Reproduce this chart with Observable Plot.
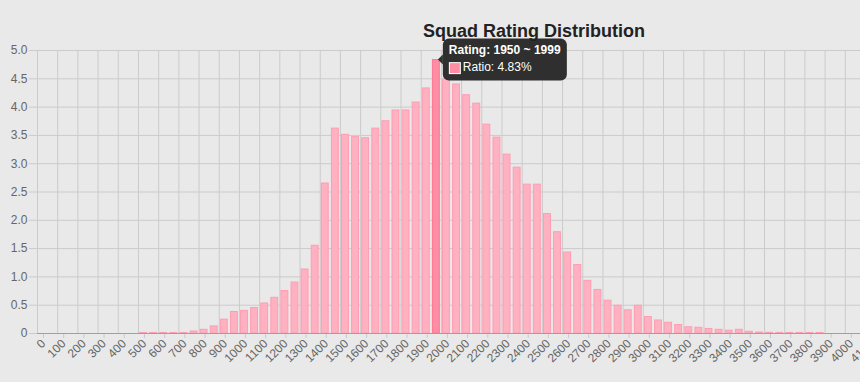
<!DOCTYPE html>
<html><head><meta charset="utf-8">
<script src="https://cdn.jsdelivr.net/npm/d3@7"></script>
<script src="https://cdn.jsdelivr.net/npm/@observablehq/plot@0.6"></script>
<style>
html,body{margin:0;padding:0;background:#e9e9e9;overflow:hidden;width:860px;height:382px;}
#wrap{position:relative;width:860px;height:382px;overflow:hidden;}
#title{position:absolute;top:22px;left:534px;transform:translateX(-50%);font:bold 18px "Liberation Sans",Arial,sans-serif;color:#222;line-height:18px;white-space:nowrap;}
#chart{position:absolute;top:0;left:0;width:868px;height:382px;}
#chart svg{max-width:none !important;width:868px;height:382px;}
</style></head><body>
<div id="wrap"><div id="chart"></div><div id="title"></div></div>
<script>
const title = "Squad Rating Distribution";
const binStart = [0,50,100,150,200,250,300,350,400,450,500,550,600,650,700,750,800,850,900,950,
  1000,1050,1100,1150,1200,1250,1300,1350,1400,1450,1500,1550,1600,1650,1700,1750,1800,1850,1900,1950,
  2000,2050,2100,2150,2200,2250,2300,2350,2400,2450,2500,2550,2600,2650,2700,2750,2800,2850,2900,2950,
  3000,3050,3100,3150,3200,3250,3300,3350,3400,3450,3500,3550,3600,3650,3700,3750,3800,3850,3900,3950];
const ratio = [0,0,0,0,0,0,0,0,0,0,0.01,0.01,0.01,0.01,0.01,0.035,0.065,0.125,0.245,0.38,
  0.40,0.45,0.53,0.63,0.75,0.90,1.13,1.55,2.65,3.62,3.51,3.47,3.45,3.62,3.75,3.94,3.94,4.08,4.33,4.83,
  4.49,4.40,4.21,4.06,3.69,3.46,3.16,2.93,2.63,2.63,2.11,1.79,1.43,1.21,0.93,0.77,0.58,0.49,0.41,0.49,
  0.29,0.23,0.19,0.15,0.11,0.10,0.08,0.065,0.05,0.065,0.03,0.017,0.012,0.01,0.01,0.01,0.01,0.01,0,0];
const yTicks = [0,0.5,1,1.5,2,2.5,3,3.5,4,4.5,5];
const xTicks = [0,100,200,300,400,500,600,700,800,900,1000,1100,1200,1300,1400,1500,1600,1700,1800,1900,2000,
  2100,2200,2300,2400,2500,2600,2700,2800,2900,3000,3100,3200,3300,3400,3500,3600,3700,3800,3900,4000,4100];
const binWidth = 50;
const hoverBin = 1950;

document.getElementById("title").textContent = title;
const data = binStart.map((b, i) => ({b, r: ratio[i]})).filter(d => d.r > 0);
const gridColor = "#cbcbcb";
const plot = Plot.plot({
  width: 868, height: 382,
  marginTop: 50, marginBottom: 49, marginLeft: 37, marginRight: 3,
  style: {background: "transparent", fontFamily: '"Liberation Sans", Arial, sans-serif', fontSize: "12px", color: "#666", maxWidth: "none"},
  x: {domain: [0, 4100]},
  y: {domain: [0, 5]},
  marks: [
    Plot.gridY(yTicks, {stroke: gridColor, strokeOpacity: 1}),
    Plot.gridX(xTicks, {stroke: gridColor, strokeOpacity: 1}),
    Plot.axisY(yTicks, {tickSize: 8, tickPadding: 2, stroke: gridColor, fill: "#666", tickFormat: d => d === 0 ? "0" : d.toFixed(1), label: null}),
    Plot.axisX(xTicks, {tickSize: 5, tickPadding: 3, tickRotate: -45, stroke: gridColor, fill: "#666", label: null, tickFormat: d => String(d), dx: 6}),
    Plot.rectY(data, {x1: "b", x2: d => d.b + binWidth, y: "r", insetLeft: 1.6, insetRight: 1.6,
      fill: d => d.b === hoverBin ? "#ff8da4" : "#ffb1c1",
      stroke: d => d.b === hoverBin ? "#ff7592" : "#ff9db2", strokeWidth: 1}),
    Plot.ruleY([0], {stroke: "#a0a0a0"})
  ]
});
document.getElementById("chart").appendChild(plot);

// tooltip for the hovered bin
const sx = plot.scale("x"), sy = plot.scale("y");
const hoverValue = ratio[binStart.indexOf(hoverBin)];
const tipX = sx.apply(hoverBin + binWidth / 2) + 2;
const tipY = sy.apply(hoverValue);
const boxLeft = tipX + 5, boxTop = tipY - 21, boxW = 124, boxH = 42;
const g = d3.select(plot).append("g").attr("text-anchor", "start");
g.append("path")
  .attr("d", `M${tipX},${tipY} L${boxLeft},${tipY - 5} L${boxLeft},${tipY + 5} Z`)
  .attr("fill", "#2f2f2f");
g.append("rect").attr("x", boxLeft).attr("y", boxTop).attr("width", boxW).attr("height", boxH).attr("rx", 6).attr("fill", "#2f2f2f");
g.append("text").attr("x", boxLeft + 6).attr("y", boxTop + 15.3).attr("text-anchor", "start")
  .attr("fill", "#fff").attr("font-weight", "bold").attr("font-size", 12)
  .text(`Rating: ${hoverBin} ~ ${hoverBin + binWidth - 1}`);
g.append("rect").attr("x", boxLeft + 6).attr("y", boxTop + 23.5).attr("width", 12).attr("height", 12).attr("fill", "#fff");
g.append("rect").attr("x", boxLeft + 7).attr("y", boxTop + 24.5).attr("width", 10).attr("height", 10).attr("fill", "#ff8da4");
g.append("text").attr("x", boxLeft + 20).attr("y", boxTop + 32.7).attr("text-anchor", "start")
  .attr("fill", "#fff").attr("font-size", 12)
  .text(`Ratio: ${hoverValue.toFixed(2)}%`);
</script>
</body></html>
